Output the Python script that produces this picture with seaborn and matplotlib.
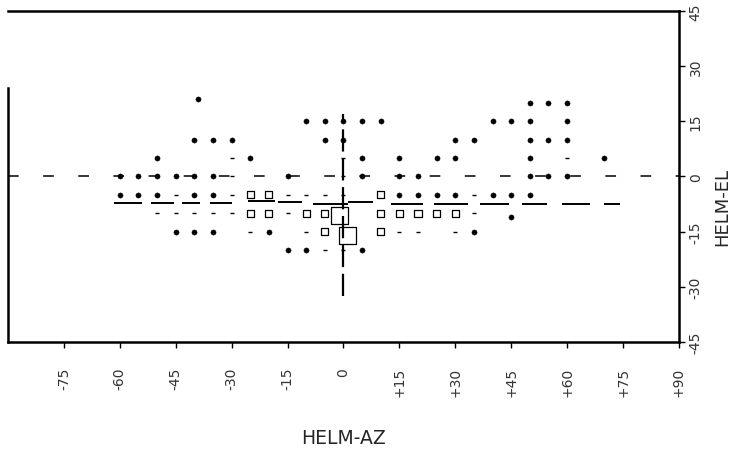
import matplotlib
matplotlib.use("Agg")
import matplotlib.pyplot as plt
import numpy as np
import pandas as pd
import seaborn as sns

# filled dots: helmet azimuth / elevation (deg)
dot_az = [-39, 50, 55, 60,
          -10, -5, 0, 5, 10, 40, 45, 50, 60,
          -40, -35, -30, -5, 0, 30, 35, 50, 55, 60,
          -50, -25, 5, 15, 25, 30, 50, 70,
          -60, -55, -50, -45, -40, -35, -15, 5, 15, 20, 50, 55, 60,
          -60, -55, -50, -40, -35, 15, 20, 25, 30, 40, 45, 50,
          45,
          -45, -40, -35, -20, 35,
          -15, -10, 5]
dot_el = [21, 20, 20, 20,
          15, 15, 15, 15, 15, 15, 15, 15, 15,
          10, 10, 10, 10, 10, 10, 10, 10, 10, 10,
          5, 5, 5, 5, 5, 5, 5, 5,
          0, 0, 0, 0, 0, 0, 0, 0, 0, 0, 0, 0, 0,
          -5, -5, -5, -5, -5, -5, -5, -5, -5, -5, -5, -5,
          -11,
          -15, -15, -15, -15, -15,
          -20, -20, -20]

# faint specks
speck_az = [-30, 0, 60,
            -30, 0,
            -45, -30, -15, -10, -5, 0, 35,
            -50, -45, -40, -35, -30, -15, 35,
            -25, -10, 15, 20, 30,
            -5, 0]
speck_el = [5, 5, 5,
            0, 0,
            -5, -5, -5, -5, -5, -5, -5,
            -10, -10, -10, -10, -10, -10, -10,
            -15, -15, -15, -15, -15,
            -20, -20]

# open squares (size ~ count)
box_az = [-25, -20, 10,
          -25, -20, -10, -5, 10, 15, 20, 25, 30,
          -5, 10,
          -1, 1]
box_el = [-5, -5, -5,
          -10, -10, -10, -10, -10, -10, -10, -10, -10,
          -15, -15,
          -10.5, -16]
box_n = [1, 1, 1,
         1, 1, 1, 1, 1, 1, 1, 1, 1,
         1, 1,
         5, 5]

# horizontal mean bars
bar_el = [-7.3, -7.3, -7.3, -7.3, -6.8, -7.0, -7.6, -7.0,
          -7.6, -7.6, -7.6, -7.6, -7.6, -7.6]
bar_from = [-61.6, -51.6, -43.2, -35.7, -25.7, -17.6, -8.1, 1.1,
            12.7, 24.3, 36.5, 47.8, 58.6, 70.0]
bar_to = [-54.1, -45.4, -38.6, -30.0, -18.4, -11.1, 1.1, 7.8,
          21.4, 33.5, 44.3, 54.6, 66.2, 74.3]

x_ticks = [-75, -60, -45, -30, -15, 0, 15, 30, 45, 60, 75, 90]
x_tick_labels = ["-75", "-60", "-45", "-30", "-15", "0",
                 "+15", "+30", "+45", "+60", "+75", "+90"]
y_ticks = [-45, -30, -15, 0, 15, 30, 45]
y_tick_labels = ["-45", "-30", "-15", "0", "15", "30", "45"]

sns.set_style("white")
plt.rcParams['font.family'] = ['DejaVu Sans']

dots = pd.DataFrame({"az": dot_az, "el": dot_el})
specks = pd.DataFrame({"az": speck_az, "el": speck_el})
boxes = pd.DataFrame({"az": box_az, "el": box_el, "n": box_n})

fig = plt.figure(figsize=(7.38, 4.52), dpi=100)
ax = fig.add_axes([0.0108, 0.2412, 0.9092, 0.7323])

# reference lines
ax.axhline(0, color="black", lw=1.1, linestyle=(0, (7, 16)), zorder=1)
ax.vlines(0, -32.5, 17, color="black", lw=1.6, linestyle=(0, (10, 3)), zorder=1)

sns.scatterplot(data=dots, x="az", y="el", ax=ax, color="black", s=14,
                marker="o", edgecolor="black", linewidth=0.3, legend=False, zorder=3)
sns.scatterplot(data=specks, x="az", y="el", ax=ax, color="black", s=8,
                marker="_", linewidth=1.0, legend=False, zorder=3)
sns.scatterplot(data=boxes, x="az", y="el", ax=ax, size="n", sizes=(26, 150),
                marker="s", facecolor="none", edgecolor="black", linewidth=0.9,
                legend=False, zorder=3)
ax.hlines(bar_el, bar_from, bar_to, color="black", lw=1.4, zorder=2)

ax.set_xlim(-90, 90)
ax.set_ylim(-45, 45)

ax.set_xticks(x_ticks)
ax.set_xticklabels(x_tick_labels, rotation=90, fontsize=10, color="#333333")
ax.yaxis.tick_right()
ax.yaxis.set_label_position("right")
ax.set_yticks(y_ticks)
ax.set_yticklabels(y_tick_labels, rotation=90, fontsize=10, color="#333333",
                   va="center")
ax.tick_params(axis="both", direction="out", length=4, width=1, color="black",
               bottom=True, right=True, left=False, pad=3)
ax.tick_params(axis="x", pad=14)

for side in ["top", "bottom", "left", "right"]:
    ax.spines[side].set_color("black")
    ax.spines[side].set_linewidth(1.8)
ax.spines["left"].set_bounds(-45, 24)

ax.set_xlabel("HELM-AZ", fontsize=13.5)
ax.xaxis.set_label_coords(0.5, -0.26)
ax.set_ylabel("HELM-EL", fontsize=13, rotation=90, va="center")
ax.yaxis.set_label_coords(1.064, 0.41)

fig.savefig("out.png", dpi=100)
